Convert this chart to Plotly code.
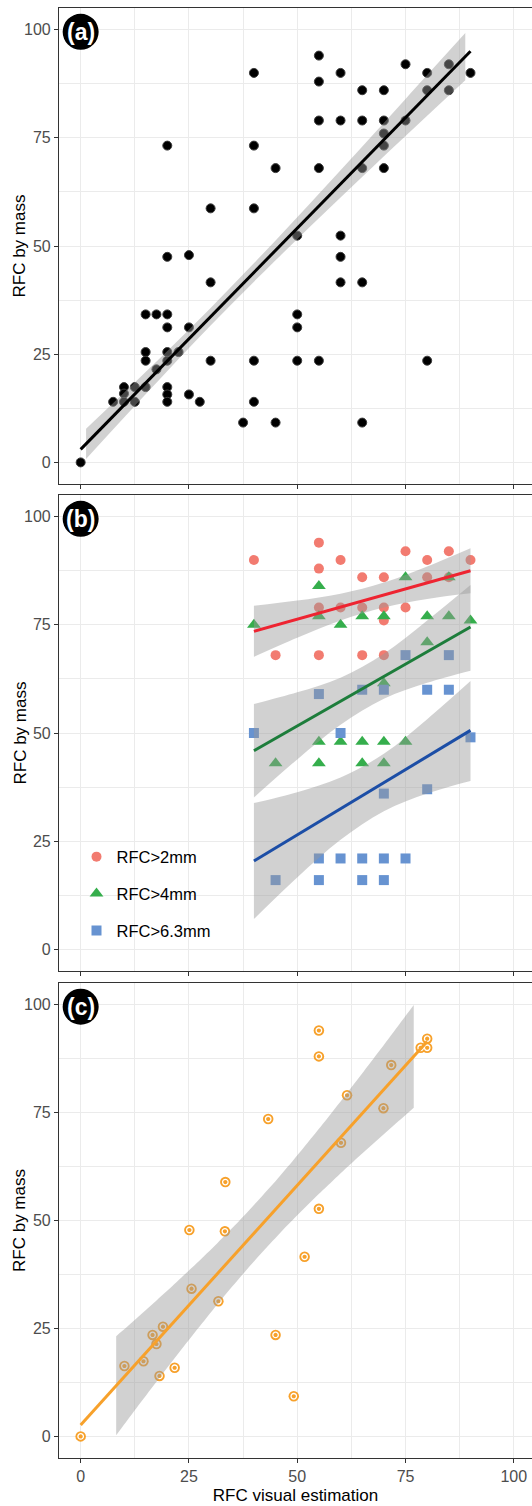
import math
import numpy as np
import plotly.graph_objects as go

# ---------------- data ----------------
# Panel (a): all observations
a_x = [55, 40, 60, 75, 80, 85, 90, 55, 65, 70, 80, 85, 55, 60, 65, 70, 75, 70, 70, 20, 40,
       45, 55, 65, 70, 30, 40, 50, 60, 20, 25, 30, 60, 60, 65, 15, 17.5, 20, 50, 20, 25, 50,
       15, 20, 22.6, 15, 20, 30, 40, 50, 55, 80, 17.5, 10, 12.5, 15, 20, 10, 20, 25, 7.5, 10,
       12.5, 20, 27.5, 40, 37.5, 45, 65, 0]
a_y = [94, 90, 90, 92, 90, 92, 90, 88, 86, 86, 86, 86, 79, 79, 79, 79, 79, 76, 73.2, 73.2, 73.2,
       68, 68, 68, 68, 58.7, 58.7, 52.4, 52.4, 47.5, 47.9, 41.6, 47.5, 41.6, 41.6, 34.2, 34.2, 34.2, 34.2, 31.2, 31.2, 31.2,
       25.5, 25.5, 25.5, 23.5, 23.5, 23.5, 23.5, 23.5, 23.5, 23.5, 21.5, 17.4, 17.4, 17.4, 17.4, 15.9, 15.7, 15.7, 14, 14,
       14, 14, 14, 14, 9.2, 9.2, 9.2, 0]
# fitted line and 95% band of panel (a)
a_fit_x = [0, 90]
a_fit_y = [3.0, 95.0]
a_band_x = [1.25, 15, 30, 45, 60, 75, 88.8]
a_band_lo = [0.8, 15.75, 31.65, 46.7, 61.2, 75.4, 88.3]
a_band_hi = [7.8, 20.9, 35.7, 51.3, 67.5, 84.0, 99.2]

# Panel (b): by size class
series_names = ["RFC>2mm", "RFC>4mm", "RFC>6.3mm"]
red_x = [40, 55, 55, 60, 65, 70, 75, 80, 85, 90, 80, 85, 55, 60, 65, 70, 75, 70, 45, 55, 65, 70]
red_y = [90, 94, 88, 90, 86, 86, 92, 90, 92, 90, 86, 86, 79, 79, 79, 79, 79, 76, 68, 68, 68, 68]
green_x = [40, 55, 55, 60, 65, 70, 75, 80, 85, 90, 85, 80, 70, 55, 60, 65, 70, 75, 45, 55, 65, 70]
green_y = [75, 84, 77, 75, 77, 77, 86, 77, 77, 76, 86, 71, 61.5, 48, 48, 48, 48, 48, 43, 43, 43, 43]
blue_x = [40, 55, 60, 65, 70, 75, 85, 80, 85, 90, 70, 80, 55, 60, 65, 70, 75, 45, 55, 65, 70]
blue_y = [50, 59, 50, 60, 60, 68, 68, 60, 60, 49, 36, 37, 21, 21, 21, 21, 21, 16, 16, 16, 16]
# fitted lines and 95% bands of panel (b)
b_fit_x = [40, 90]
red_fit_y = [73.5, 87.5]
green_fit_y = [45.9, 74.5]
blue_fit_y = [20.4, 50.6]
b_band_x = [40, 50, 60, 70, 80, 90]
red_lo = [67.6, 72.0, 76.0, 79.0, 81.0, 82.3]
red_hi = [79.4, 80.6, 82.2, 84.8, 88.5, 92.7]
green_lo = [35.1, 43.9, 51.9, 57.9, 61.6, 64.4]
green_hi = [56.7, 59.4, 62.8, 68.3, 76.0, 84.2]
blue_lo = [7.0, 16.6, 25.3, 31.9, 36.0, 38.9]
blue_hi = [33.8, 36.3, 39.7, 45.2, 53.2, 62.0]

# Panel (c)
c_x = [55, 55, 80, 78.5, 80, 71.7, 61.5, 69.9, 43.3, 60.1, 33.4, 55, 25.1, 33.3, 51.7, 25.6, 31.8,
       19.0, 16.6, 45.0, 17.5, 10.1, 14.5, 21.7, 18.2, 49.2, 0]
c_y = [94, 88, 92.1, 90, 90, 86, 79, 76, 73.5, 68, 58.9, 52.7, 47.8, 47.5, 41.6, 34.2, 31.3,
       25.4, 23.5, 23.5, 21.4, 16.3, 17.4, 15.9, 14, 9.3, 0]
c_ribbon_span = [8.2, 76.9]

ticks = [0, 25, 50, 75, 100]
minor_ticks = [12.5, 37.5, 62.5, 87.5]
panel_labels = ["(a)", "(b)", "(c)"]

FONT = "Liberation Sans, Arial, sans-serif"
RIBBON = "rgba(153,153,153,0.45)"


# ---------------- helpers ----------------
def t_ppf(p, df):
    c = math.exp(math.lgamma((df + 1) / 2) - math.lgamma(df / 2)) / math.sqrt(df * math.pi)

    def cdf(t):
        xs = np.linspace(0, t, 4001)
        return 0.5 + np.trapezoid(c * (1 + xs ** 2 / df) ** (-(df + 1) / 2), xs)

    lo, hi = 0.0, 20.0
    for _ in range(60):
        mid = (lo + hi) / 2
        if cdf(mid) < p:
            lo = mid
        else:
            hi = mid
    return (lo + hi) / 2


def ols_band(x, y, xs):
    x = np.asarray(x, float)
    y = np.asarray(y, float)
    n = len(x)
    xm = x.mean()
    sxx = ((x - xm) ** 2).sum()
    b = ((x - xm) * (y - y.mean())).sum() / sxx
    a = y.mean() - b * xm
    s = math.sqrt(((y - a - b * x) ** 2).sum() / (n - 2))
    t = t_ppf(0.975, n - 2)
    se = s * np.sqrt(1 / n + (xs - xm) ** 2 / sxx)
    f = a + b * xs
    return a, b, f - t * se, f + t * se


fig = go.Figure()


def add_band(bx_, lo, hi, xa, ya):
    fig.add_trace(go.Scatter(x=bx_, y=lo, mode="lines", line=dict(width=0, shape="spline"),
                             hoverinfo="skip", showlegend=False, xaxis=xa, yaxis=ya))
    fig.add_trace(go.Scatter(x=bx_, y=hi, mode="lines", line=dict(width=0, shape="spline"),
                             fill="tonexty", fillcolor=RIBBON,
                             hoverinfo="skip", showlegend=False, xaxis=xa, yaxis=ya))


def add_line(lx, ly, xa, ya, color):
    fig.add_trace(go.Scatter(x=lx, y=ly, mode="lines", line=dict(color=color, width=3),
                             showlegend=False, xaxis=xa, yaxis=ya))


# ---- panel (a)
fig.add_trace(go.Scatter(x=a_x, y=a_y, mode="markers",
                         marker=dict(color="#000000", size=9, line=dict(color="#3c3c3c", width=1)),
                         showlegend=False, xaxis="x", yaxis="y"))
add_band(a_band_x, a_band_lo, a_band_hi, "x", "y")
add_line(a_fit_x, a_fit_y, "x", "y", "#000000")

# ---- panel (b)
pt_colors = ["#F27B70", "#35AE4C", "#6793D1"]
ln_colors = ["#EE2431", "#1D7D3B", "#1C4EA6"]
symbols = ["circle", "triangle-up", "square"]
sizes = [10, 12, 10]
bx = [red_x, green_x, blue_x]
by = [red_y, green_y, blue_y]
b_lo = [red_lo, green_lo, blue_lo]
b_hi = [red_hi, green_hi, blue_hi]
b_fit = [red_fit_y, green_fit_y, blue_fit_y]
for i in range(3):
    fig.add_trace(go.Scatter(x=bx[i], y=by[i], mode="markers", name=series_names[i],
                             legendgroup=series_names[i],
                             marker=dict(color=pt_colors[i], size=sizes[i], symbol=symbols[i], line=dict(width=0)),
                             xaxis="x2", yaxis="y2"))
for i in range(3):
    add_band(b_band_x, b_lo[i], b_hi[i], "x2", "y2")
    add_line(b_fit_x, b_fit[i], "x2", "y2", ln_colors[i])

# ---- panel (c): linear fit with 95% band computed from the points
ORANGE = "#F7A12B"
fig.add_trace(go.Scatter(x=c_x, y=c_y, mode="markers",
                         marker=dict(color=ORANGE, size=10.5, line=dict(width=0)),
                         showlegend=False, xaxis="x3", yaxis="y3"))
fig.add_trace(go.Scatter(x=c_x, y=c_y, mode="markers",
                         marker=dict(color=ORANGE, size=5.5, line=dict(color="#ffffff", width=1.3)),
                         showlegend=False, xaxis="x3", yaxis="y3"))
c_xs = np.linspace(c_ribbon_span[0], c_ribbon_span[1], 60)
c_a, c_b, c_lo, c_hi = ols_band(c_x, c_y, c_xs)
add_band(c_xs, c_lo, c_hi, "x3", "y3")
c_lx = np.array([min(c_x), max(c_x)], float)
add_line(c_lx, c_a + c_b * c_lx, "x3", "y3", ORANGE)

# ---------------- layout ----------------
domains = [[0.6717, 1.0], [0.3359, 0.6641], [0.0, 0.3276]]
grid = dict(showgrid=True, gridcolor="#EBEBEB", gridwidth=1.1, zeroline=False,
            minor=dict(tickvals=minor_ticks, showgrid=True, gridcolor="#EBEBEB", gridwidth=0.6, ticks=""))
axis_common = dict(tickvals=ticks, ticks="outside", ticklen=4, tickwidth=1.2, tickcolor="#333333",
                   showline=True, linecolor="#333333", linewidth=1.1,
                   tickfont=dict(family=FONT, size=16, color="#4D4D4D"), **grid)

lay = dict(width=532, height=1506, margin=dict(l=59, r=0, t=8, b=48),
           plot_bgcolor="#ffffff", paper_bgcolor="#ffffff",
           font=dict(family=FONT, color="#000000"),
           legend=dict(x=0.037, y=0.4266, xanchor="left", yanchor="top", bgcolor="rgba(0,0,0,0)",
                       font=dict(family=FONT, size=16.5, color="#000000"),
                       traceorder="grouped", tracegroupgap=12.5, itemsizing="trace"))
suffix = ["", "2", "3"]
annotations = []
shapes = []
for i in range(3):
    s = suffix[i]
    xa = dict(axis_common, domain=[0, 1], anchor="y" + s, range=[-5, 104.2], mirror=True,
              showticklabels=(i == 2))
    if i == 2:
        xa["title"] = dict(text="RFC visual estimation", font=dict(family=FONT, size=17, color="#000000"),
                           standoff=4)
    ya = dict(axis_common, domain=domains[i], anchor="x" + s, range=[-5, 105])
    lay["xaxis" + s] = xa
    lay["yaxis" + s] = ya
    # y-axis title
    annotations.append(dict(x=(19.5 - 59) / 473, y=sum(domains[i]) / 2, xref="paper", yref="paper",
                            text="RFC by mass", textangle=-90, showarrow=False,
                            xanchor="center", yanchor="middle",
                            font=dict(family=FONT, size=17, color="#000000")))
    # panel badge
    shapes.append(dict(type="circle", xref="x" + s, yref="y" + s, xsizemode="pixel", ysizemode="pixel",
                       xanchor=0, yanchor=99.5, x0=-18, x1=18, y0=-18, y1=18,
                       fillcolor="#000000", line=dict(width=0), layer="above"))
    annotations.append(dict(x=0, y=99.5, xref="x" + s, yref="y" + s, text="<b>" + panel_labels[i] + "</b>",
                            showarrow=False, font=dict(family=FONT, size=23, color="#ffffff")))
lay["shapes"] = shapes
lay["annotations"] = annotations
fig.update_layout(**lay)

fig.write_html("out.html")
